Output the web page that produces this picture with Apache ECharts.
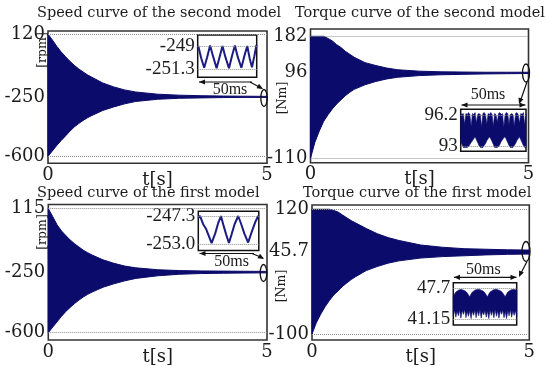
<!DOCTYPE html>
<html>
<head>
<meta charset="utf-8">
<script src="https://cdn.jsdelivr.net/npm/echarts@6/dist/echarts.min.js"></script>
<style>
    html, body { margin: 0; padding: 0; background: #fff; }
    #chart { width: 547px; height: 367px; }
</style>
</head>
<body>
<div id="chart"></div>
<script>
var NAVY = '#0b0b6b';
var INK = '#1c1c1c';
var MAIN_FONT = 'DejaVu Serif';
var INSET_FONT = 'Liberation Serif';

// main plots: time in s, envelope of the oscillation
var tMain = [0, 0.1, 0.2, 0.3, 0.4, 0.5, 0.6, 0.7, 0.8, 0.9, 1.0, 1.25, 1.5, 1.75, 2.0, 2.5, 3.0, 3.5, 4.0, 4.5, 5.0];

var speed2Upper = [120, 85, 48, 15, -13, -40, -64, -85, -103, -120, -134, -168, -191, -209, -221, -234, -240, -243, -245, -246, -247];
var speed2Lower = [-600, -568, -536, -507, -480, -452, -427, -407, -389, -373, -360, -330, -309, -291, -277, -264, -258, -256, -254, -253, -253];

var torque2Upper = [182, 182, 182, 182, 177, 171, 162, 155, 146, 139, 132, 119, 112, 106, 102, 98.5, 97, 96.5, 96, 96, 96];
var torque2Lower = [-110, -72, -45, -22, -6, 8, 20, 30, 40, 48, 55, 66, 74, 80, 84, 88, 90, 91, 92, 92.5, 93];

var speed1Upper = [115, 70, 22, -13, -40, -65, -87, -106, -124, -139, -152, -180, -200, -216, -226, -237, -242, -244, -245, -246, -246.5];
var speed1Lower = [-600, -568, -537, -506, -478, -454, -432, -412, -394, -379, -366, -338, -318, -301, -287, -272, -263, -259, -257, -256, -255];

var torque1Upper = [120, 120, 120, 120, 120, 118, 115, 110, 105, 100, 96, 86, 77, 70, 65, 57, 53, 50.5, 49.5, 48.5, 48];
var torque1Lower = [-100, -80, -65, -52, -41, -31, -24, -16, -10, -4, 1, 12, 19, 25, 29, 34, 36.5, 38, 39.5, 40.5, 41];

var speed2Ticks = [120, -250, -600];
var torque2Ticks = [182, 96, -110];
var speed1Ticks = [115, -250, -600];
var torque1Ticks = [120, 45.7, -100];

// zoomed windows (50 ms at the end of each run)
var speed2ZoomT = [0, 0.5, 3, 5.5, 8, 10.5, 13, 16, 18.5, 21, 23.5, 26.5, 29, 31.5, 34, 37, 39.5, 42, 44, 46, 48, 49.8, 50];
var speed2ZoomV = [-249.2, -249.0, -250.2, -251.15, -250.1, -248.95, -250.0, -251.2, -250.1, -249.0, -250.1, -251.2, -250.0, -248.95, -250.1, -251.15, -250.0, -249.0, -250.2, -251.1, -250.0, -248.9, -248.95];
var speed2ZoomTicks = [-249, -251.3];
var speed2ZoomText = ['-249', '-251.3'];

var speed1ZoomT = [0, 1.4, 4, 6.5, 8.5, 11, 14, 16.5, 18.7, 21, 23, 25.3, 27.5, 30, 33, 35.5, 38, 41.2, 44, 47, 49.5, 50];
var speed1ZoomV = [-247.6, -247.15, -248.9, -249.9, -251.2, -252.8, -250.8, -248.6, -247.2, -249.3, -251.0, -252.8, -251.0, -248.9, -247.2, -248.9, -250.8, -252.7, -250.6, -248.5, -247.2, -247.3];
var speed1ZoomTicks = [-247.3, -253.0];
var speed1ZoomText = ['-247.3', '-253.0'];

var tZoom = [0, 1, 2, 3, 4, 5, 6, 7, 8, 9, 10, 11, 12, 13, 14, 15, 16, 17, 18, 19, 20, 21, 22, 23, 24, 25,
    26, 27, 28, 29, 30, 31, 32, 33, 34, 35, 36, 37, 38, 39, 40, 41, 42, 43, 44, 45, 46, 47, 48, 49, 50];

var torque2ZoomUpper = [96.4, 96.3, 96.4, 95.3, 96.4, 96.3, 96.5, 96.3, 95.1, 96.4, 96.3, 96.5, 95.4, 96.3, 96.4, 96.3, 95.0,
    96.4, 96.5, 96.3, 95.3, 96.4, 96.3, 96.5, 96.3, 95.1, 96.4, 96.3, 95.5, 96.4, 96.5, 96.3, 96.4, 95.0,
    96.3, 96.5, 96.4, 95.3, 96.3, 96.4, 96.3, 95.1, 96.4, 96.5, 96.3, 95.4, 96.4, 96.3, 96.5, 95.2, 96.4];
var torque2ZoomLower = [93.5, 93.2, 92.9, 92.9, 92.9, 92.9, 93.0, 93.2, 93.4, 93.6, 93.8, 94.0, 93.7, 93.4, 93.1, 92.9, 92.9,
    92.9, 93.1, 93.3, 93.6, 93.8, 94.0, 93.8, 93.5, 93.2, 92.9, 92.9, 92.9, 93.0, 93.2, 93.5, 93.7, 93.9,
    94.0, 93.7, 93.4, 93.1, 92.9, 92.9, 92.9, 93.1, 93.3, 93.6, 93.8, 94.0, 93.7, 93.4, 93.1, 92.9, 92.9];
var torque2ZoomTicks = [96.2, 93];
var torque2ZoomText = ['96.2', '93'];

var torque1ZoomUpper = [45.9, 46.5, 46.9, 47.1, 47.3, 47.4, 47.45, 47.4, 47.3, 47.2, 47.0, 46.7, 46.3, 45.9, 46.5, 46.9, 47.1,
    47.3, 47.4, 47.45, 47.5, 47.4, 47.3, 47.2, 47.0, 46.7, 46.3, 45.9, 46.5, 46.9, 47.1, 47.3, 47.4, 47.45,
    47.5, 47.4, 47.3, 47.2, 47.0, 46.7, 46.3, 45.9, 46.5, 46.9, 47.1, 47.3, 47.4, 47.45, 47.45, 47.4, 47.3];
var torque1ZoomLower = [42.0, 43.0, 41.6, 42.9, 41.9, 43.1, 41.4, 43.0, 42.2, 43.2, 41.5, 42.8, 41.8, 43.0, 41.3, 42.9, 42.0,
    43.1, 41.5, 43.0, 41.9, 43.2, 41.4, 42.8, 42.1, 43.0, 41.6, 42.9, 41.3, 43.1, 42.0, 43.0, 41.5, 43.2,
    41.8, 42.9, 41.4, 43.0, 42.2, 43.1, 41.5, 42.8, 41.3, 43.0, 41.9, 43.2, 41.6, 42.9, 42.0, 43.0, 41.7];
var torque1ZoomTicks = [47.7, 41.15];
var torque1ZoomText = ['47.7', '41.15'];

function pairs(xs, ys) {
    var out = [];
    for (var i = 0; i < xs.length; i++) out.push([xs[i], ys[i]]);
    return out;
}

function tickText(ticks, text) {
    return function (v) {
        for (var i = 0; i < ticks.length; i++) {
            if (Math.abs(v - ticks[i]) < 1e-6) return text[i];
        }
        return '';
    };
}

function dotted(g, values) {
    return {
        type: 'line', xAxisIndex: g, yAxisIndex: g, data: [], z: 1,
        markLine: {
            silent: true, symbol: 'none', label: { show: false },
            lineStyle: { type: 'dotted', color: '#8c8c8c', width: 1 },
            data: values.map(function (v) { return { yAxis: v }; })
        }
    };
}

// filled band between an upper and a lower envelope, drawn as one polygon
function band(g, xs, up, lo, lw) {
    return {
        type: 'custom', xAxisIndex: g, yAxisIndex: g,
        data: pairs(xs, up),
        renderItem: function (params, api) {
            if (params.dataIndex !== 0) return null;
            var pts = [];
            for (var i = 0; i < xs.length; i++) pts.push(api.coord([xs[i], up[i]]));
            for (var j = xs.length - 1; j >= 0; j--) pts.push(api.coord([xs[j], lo[j]]));
            return {
                type: 'polygon',
                shape: { points: pts },
                style: { fill: NAVY, stroke: NAVY, lineWidth: lw, lineJoin: 'round' }
            };
        }
    };
}

var mainBoxes = [
    { left: 48, top: 31, width: 219, height: 132.3 },
    { left: 310.5, top: 29, width: 218, height: 133.7 },
    { left: 48.3, top: 204.5, width: 218.7, height: 138.8 },
    { left: 312, top: 205, width: 217.3, height: 136 }
];
var insetBoxes = [
    { left: 197.7, top: 35, width: 59, height: 42.3 },
    { left: 460.7, top: 109.3, width: 65.3, height: 42 },
    { left: 198.3, top: 211.3, width: 60.5, height: 39.2 },
    { left: 453.3, top: 282.7, width: 63.4, height: 42.3 }
];
var mainRanges = [[-641, 138], [-120.5, 199.5], [-642, 139], [-110.5, 127.5]];
var insetRanges = [[-252.09, -247.91], [92.50, 96.84], [-254.35, -246.22], [39.95, 48.88]];
var mainTicks = [speed2Ticks, torque2Ticks, speed1Ticks, torque1Ticks];
var insetTicks = [speed2ZoomTicks, torque2ZoomTicks, speed1ZoomTicks, torque1ZoomTicks];
var insetText = [speed2ZoomText, torque2ZoomText, speed1ZoomText, torque1ZoomText];

var grids = [], xAxes = [], yAxes = [];

mainBoxes.forEach(function (b, i) {
    grids.push({
        left: b.left, top: b.top, width: b.width, height: b.height,
        show: true, backgroundColor: '#fff', borderColor: '#333', borderWidth: 1.6
    });
    xAxes.push({
        gridIndex: i, type: 'value', min: 0, max: 5,
        axisLine: { show: false }, axisTick: { show: false }, splitLine: { show: false },
        axisLabel: { customValues: [0, 5], fontFamily: MAIN_FONT, fontSize: 18, color: INK, margin: 3 },
        name: 't[s]', nameLocation: 'middle', nameGap: 8, nameMoveOverlap: false,
        nameTextStyle: { fontFamily: MAIN_FONT, fontSize: 18, color: INK }
    });
    yAxes.push({
        gridIndex: i, type: 'value', min: mainRanges[i][0], max: mainRanges[i][1],
        axisLine: { show: false }, axisTick: { show: false }, splitLine: { show: false },
        axisLabel: {
            customValues: mainTicks[i], fontFamily: MAIN_FONT, fontSize: 18, color: INK, margin: 3,
            formatter: function (v) { return String(v); }
        }
    });
});

insetBoxes.forEach(function (b, i) {
    var g = i + 4;
    grids.push({
        left: b.left, top: b.top, width: b.width, height: b.height,
        show: true, backgroundColor: '#fff', borderColor: '#111', borderWidth: 1.5
    });
    xAxes.push({ gridIndex: g, type: 'value', min: 0, max: 50, show: false });
    yAxes.push({
        gridIndex: g, type: 'value', min: insetRanges[i][0], max: insetRanges[i][1],
        axisLine: { show: false }, axisTick: { show: false }, splitLine: { show: false },
        axisLabel: {
            customValues: insetTicks[i], fontFamily: INSET_FONT, fontSize: 19, color: INK, margin: 3,
            formatter: tickText(insetTicks[i], insetText[i])
        }
    });
});

var series = [];
series.push(dotted(0, [120, -600]));
series.push(dotted(1, [182, -110]));
series.push(dotted(2, [115, -600]));
series.push(dotted(3, [120, -100]));
series.push(band(0, tMain, speed2Upper, speed2Lower, 1));
series.push(band(1, tMain, torque2Upper, torque2Lower, 1));
series.push(band(2, tMain, speed1Upper, speed1Lower, 1));
series.push(band(3, tMain, torque1Upper, torque1Lower, 1));
for (var k = 0; k < 4; k++) series.push(dotted(k + 4, insetTicks[k]));
series.push({
    type: 'line', xAxisIndex: 4, yAxisIndex: 4, data: pairs(speed2ZoomT, speed2ZoomV),
    symbol: 'none', lineStyle: { color: '#1c1c82', width: 2 }
});
series.push(band(5, tZoom, torque2ZoomUpper, torque2ZoomLower, 0.6));
series.push({
    type: 'line', xAxisIndex: 6, yAxisIndex: 6, data: pairs(speed1ZoomT, speed1ZoomV),
    symbol: 'none', lineStyle: { color: '#1c1c82', width: 2 }
});
series.push(band(7, tZoom, torque1ZoomUpper, torque1ZoomLower, 0.6));

// annotations: ellipses at the end of the run, 50 ms arrows
function head(x, y, dx, dy) {
    var len = Math.sqrt(dx * dx + dy * dy), ux = dx / len, uy = dy / len, L = 6, W = 2.6;
    return {
        type: 'polygon', z: 100,
        shape: { points: [[x, y], [x - ux * L - uy * W, y - uy * L + ux * W], [x - ux * L + uy * W, y - uy * L - ux * W]] },
        style: { fill: '#111' }
    };
}
function seg(x1, y1, x2, y2) {
    return { type: 'line', z: 100, shape: { x1: x1, y1: y1, x2: x2, y2: y2 }, style: { stroke: '#111', lineWidth: 1.2 } };
}
function ring(cx, cy, rx, ry) {
    return { type: 'ellipse', z: 100, shape: { cx: cx, cy: cy, rx: rx, ry: ry }, style: { fill: 'none', stroke: '#111', lineWidth: 1.3 } };
}
function label(x, y, text, size, font, rot) {
    return {
        type: 'text', z: 100, x: x, y: y, rotation: rot || 0,
        style: { text: text, font: size + 'px "' + font + '"', fill: INK, align: 'center', verticalAlign: 'middle' }
    };
}

var graphics = [
    // speed, second model
    ring(264, 98, 3.2, 8.5),
    seg(199, 82, 252, 82), head(199, 82, -1, 0),
    seg(250, 82, 262, 88.5), head(263, 89, 1.8, 1),
    label(230, 90, '50ms', 16, INSET_FONT),
    // torque, second model
    ring(526, 73, 3.5, 9),
    seg(461.5, 105, 525.5, 105), head(461.5, 105, -1, 0), head(525.5, 105, 1, 0),
    seg(527, 82, 520, 102), head(519, 104, -0.35, 1),
    label(488, 95, '50ms', 16, INSET_FONT),
    // speed, first model
    ring(263.5, 273, 3.3, 8.5),
    seg(199.5, 253.5, 254, 253.5), head(199.5, 253.5, -1, 0),
    seg(252, 253.5, 263, 258), head(264, 259, 1.8, 1),
    label(231.7, 262, '50ms', 16, INSET_FONT),
    // torque, first model
    ring(526, 251.5, 4, 10),
    seg(454, 277.3, 516.5, 277.3), head(454, 277.3, -1, 0), head(516.5, 277.3, 1, 0),
    seg(527, 261.5, 520, 275), head(519, 277, -0.45, 1),
    label(483.3, 269.3, '50ms', 16, INSET_FONT),
    // y axis names
    label(42.5, 50, '[rpm]', 12.5, MAIN_FONT, Math.PI / 2),
    label(282.5, 98, '[Nm]', 12.5, MAIN_FONT, Math.PI / 2),
    label(42.5, 232, '[rpm]', 12.5, MAIN_FONT, Math.PI / 2),
    label(282, 286, '[Nm]', 12.5, MAIN_FONT, Math.PI / 2)
];

var titleStyle = { fontFamily: MAIN_FONT, fontSize: 14.5, fontWeight: 'normal', color: INK };

var option = {
    animation: false,
    backgroundColor: '#fff',
    title: [
        { text: 'Speed curve of the second model', left: 37, top: 6, padding: 0, textStyle: titleStyle },
        { text: 'Torque curve of the second model', left: 295, top: 6, padding: 0, textStyle: titleStyle },
        { text: 'Speed curve of the first model', left: 37, top: 186, padding: 0, textStyle: titleStyle },
        { text: 'Torque curve of the first model', left: 303, top: 186, padding: 0, textStyle: titleStyle }
    ],
    grid: grids,
    xAxis: xAxes,
    yAxis: yAxes,
    series: series,
    graphic: graphics
};

var myChart = echarts.init(document.getElementById('chart'));
myChart.setOption(option);
</script>
</body>
</html>
